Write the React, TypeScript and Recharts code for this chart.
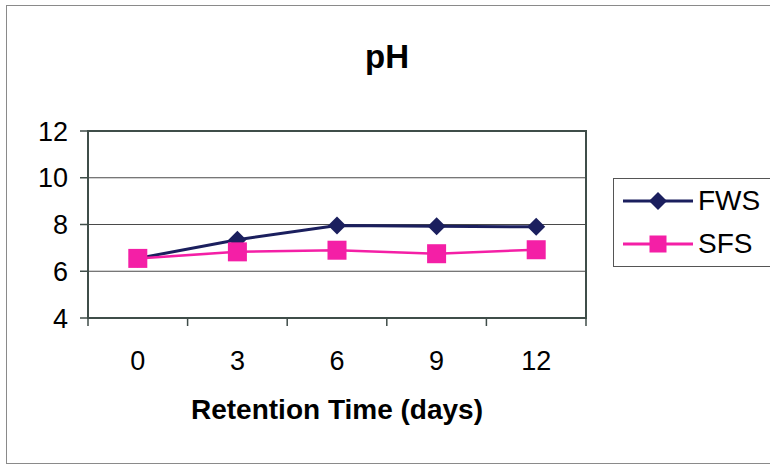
import React from "react";
import {
  CartesianGrid,
  Legend,
  Line,
  LineChart,
  ReferenceArea,
  XAxis,
  YAxis,
} from "recharts";

const days = [0, 3, 6, 9, 12];
const fwsPh = [6.55, 7.35, 7.96, 7.93, 7.9];
const sfsPh = [6.55, 6.83, 6.9, 6.75, 6.92];
const yTicks = [4, 6, 8, 10, 12];
// category edges, where the x tick marks sit (between labels)
const xEdges = [-1.5, 1.5, 4.5, 7.5, 10.5, 13.5];

const data = days.map((d, i) => ({ day: d, FWS: fwsPh[i], SFS: sfsPh[i] }));

const NAVY = "#1b1f5e";
const PINK = "#f41fa6";
const AXIS = "#3f4d49";
const FONT = "'Liberation Sans', Arial, sans-serif";

function Diamond({ cx, cy, fill, r = 9 }: any) {
  if (cx == null || cy == null) return null;
  return (
    <path
      d={`M${cx},${cy - r}L${cx + r},${cy}L${cx},${cy + r}L${cx - r},${cy}Z`}
      fill={fill}
    />
  );
}

function Square({ cx, cy, fill, s = 19 }: any) {
  if (cx == null || cy == null) return null;
  return <rect x={cx - s / 2} y={cy - s / 2} width={s} height={s} fill={fill} />;
}

function XTick({ x, y, payload }: any) {
  const v = payload.value;
  if (xEdges.includes(v)) {
    return <line x1={x} x2={x} y1={y} y2={y + 8} stroke={AXIS} strokeWidth={1.5} />;
  }
  return (
    <text x={x} y={y + 52} textAnchor="middle" fill="#000" fontSize={27}>
      {v}
    </text>
  );
}

function LegendBox({ payload }: any) {
  return (
    <div
      style={{
        width: "100%",
        height: "100%",
        boxSizing: "border-box",
        border: "1px solid #555",
        background: "#fff",
        position: "relative",
      }}
    >
      {(payload || []).map((p: any, i: number) => (
        <div
          key={p.value}
          style={{
            position: "absolute",
            left: 0,
            top: 22 + i * 43 - 15,
            height: 30,
            display: "flex",
            alignItems: "center",
          }}
        >
          <svg width={84} height={30} style={{ display: "block" }}>
            <line x1={9} x2={79} y1={15} y2={15} stroke={p.color} strokeWidth={3} />
            {p.value === "FWS" ? (
              <Diamond cx={44} cy={15} r={9} fill={p.color} />
            ) : (
              <Square cx={44} cy={15} s={17} fill={p.color} />
            )}
          </svg>
          <span style={{ fontSize: 28, color: "#000", marginLeft: 0, lineHeight: "30px" }}>
            {p.value}
          </span>
        </div>
      ))}
    </div>
  );
}

export default function App() {
  return (
    <div
      style={{
        position: "absolute",
        left: 0,
        top: 0,
        width: 770,
        height: 467,
        background: "#fff",
        fontFamily: FONT,
        overflow: "hidden",
      }}
    >
      <div
        style={{
          position: "absolute",
          left: 6,
          top: 5,
          width: 800,
          height: 459,
          border: "1.5px solid #8a8a8a",
          boxSizing: "border-box",
        }}
      />
      <div
        style={{
          position: "absolute",
          left: 0,
          top: 40,
          width: 774,
          textAlign: "center",
          fontSize: 33,
          fontWeight: "bold",
          lineHeight: "33px",
          color: "#000",
        }}
      >
        pH
      </div>
      <LineChart
        width={770}
        height={467}
        data={data}
        margin={{ top: 131, right: 184, bottom: 29, left: 0 }}
        style={{ position: "absolute", left: 0, top: 0 }}
      >
        <CartesianGrid vertical={false} stroke="#4a4a4a" strokeWidth={1.2} />
        <XAxis
          dataKey="day"
          type="number"
          domain={[-1.5, 13.5]}
          ticks={[...xEdges, ...days]}
          interval={0}
          tick={<XTick />}
          tickLine={false}
          tickSize={0}
          tickMargin={0}
          height={120}
          axisLine={{ stroke: AXIS, strokeWidth: 2 }}
          label={{
            value: "Retention Time (days)",
            position: "insideTop",
            offset: 81,
            fill: "#000",
            fontSize: 28,
            fontWeight: "bold",
          }}
        />
        <YAxis
          type="number"
          domain={[4, 12]}
          ticks={yTicks}
          interval={0}
          width={88}
          tickSize={8}
          tickMargin={12}
          tick={{ fill: "#000", fontSize: 27 }}
          tickLine={{ stroke: AXIS, strokeWidth: 1.5 }}
          axisLine={{ stroke: AXIS, strokeWidth: 2 }}
        />
        <ReferenceArea
          x1={-1.5}
          x2={13.5}
          y1={4}
          y2={12}
          fill="none"
          fillOpacity={0}
          stroke={AXIS}
          strokeWidth={2}
        />
        <Line
          dataKey="FWS"
          name="FWS"
          stroke={NAVY}
          strokeWidth={3}
          dot={<Diamond fill={NAVY} r={9} />}
          activeDot={false}
          isAnimationActive={false}
        />
        <Line
          dataKey="SFS"
          name="SFS"
          stroke={PINK}
          strokeWidth={2.5}
          dot={<Square fill={PINK} s={19} />}
          activeDot={false}
          isAnimationActive={false}
        />
        <Legend
          layout="horizontal"
          verticalAlign="middle"
          align="center"
          content={<LegendBox />}
          wrapperStyle={{ left: 613, top: 178, width: 170, height: 89, bottom: "auto", right: "auto" }}
        />
      </LineChart>
    </div>
  );
}
